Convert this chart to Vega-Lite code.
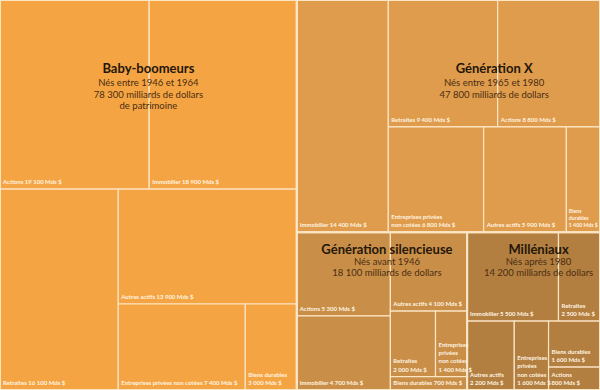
{
  "$schema": "https://vega.github.io/schema/vega-lite/v6.json",
  "width": 600,
  "height": 390,
  "padding": 0,
  "autosize": {"type": "none"},
  "background": "#FBE5C3",
  "config": {"view": {"stroke": null}},
  "datasets": {
    "leaves": [
      {"gen": "Baby-boomeurs", "cat": "Actions", "value": 19100, "label": "Actions 19 100 Mds $", "path": "000", "dirs": "xyxyx"},
      {"gen": "Baby-boomeurs", "cat": "Immobilier", "value": 18900, "label": "Immobilier 18 900 Mds $", "path": "001", "dirs": "xyxyx"},
      {"gen": "Baby-boomeurs", "cat": "Retraites", "value": 16100, "label": "Retraites 16 100 Mds $", "path": "010", "dirs": "xyxyx"},
      {"gen": "Baby-boomeurs", "cat": "Autres actifs", "value": 13900, "label": "Autres actifs 13 900 Mds $", "path": "0110", "dirs": "xyxyx"},
      {"gen": "Baby-boomeurs", "cat": "Entreprises privées non cotées", "value": 7400, "label": "Entreprises privées non cotées 7 400 Mds $", "path": "01110", "dirs": "xyxyx"},
      {"gen": "Baby-boomeurs", "cat": "Biens durables", "value": 3000, "label": "Biens durables\n3 000 Mds $", "path": "01111", "dirs": "xyxyx"},
      {"gen": "Génération X", "cat": "Immobilier", "value": 14400, "label": "Immobilier 14 400 Mds $", "path": "100", "dirs": "xyxyx"},
      {"gen": "Génération X", "cat": "Retraites", "value": 9400, "label": "Retraites 9 400 Mds $", "path": "10100", "dirs": "xyxyx"},
      {"gen": "Génération X", "cat": "Actions", "value": 8800, "label": "Actions 8 800 Mds $", "path": "10101", "dirs": "xyxyx"},
      {"gen": "Génération X", "cat": "Entreprises privées non cotées", "value": 6800, "label": "Entreprises privées\nnon cotées 6 800 Mds $", "path": "10110", "dirs": "xyxyx"},
      {"gen": "Génération X", "cat": "Autres actifs", "value": 5900, "label": "Autres actifs 5 900 Mds $", "path": "10111", "dirs": "xyxyx"},
      {"gen": "Génération X", "cat": "Biens durables", "value": 2400, "label": "Biens\ndurables\n1 400 Mds $", "path": "10112", "dirs": "xyxyx"},
      {"gen": "Génération silencieuse", "cat": "Actions", "value": 5300, "label": "Actions 5 300 Mds $", "path": "11000", "dirs": "xyxxyyx"},
      {"gen": "Génération silencieuse", "cat": "Immobilier", "value": 4700, "label": "Immobilier 4 700 Mds $", "path": "11001", "dirs": "xyxxyyx"},
      {"gen": "Génération silencieuse", "cat": "Autres actifs", "value": 4100, "label": "Autres actifs 4 100 Mds $", "path": "11010", "dirs": "xyxxyyx"},
      {"gen": "Génération silencieuse", "cat": "Retraites", "value": 2000, "label": "Retraites\n2 000 Mds $", "path": "1101100", "dirs": "xyxxyyx"},
      {"gen": "Génération silencieuse", "cat": "Entreprises privées non cotées", "value": 1400, "label": "Entreprises\nprivées\nnon cotées\n1 400 Mds $", "path": "1101101", "dirs": "xyxxyyx"},
      {"gen": "Génération silencieuse", "cat": "Biens durables", "value": 700, "label": "Biens durables 700 Mds $", "path": "110111", "dirs": "xyxxyyx"},
      {"gen": "Milléniaux", "cat": "Immobilier", "value": 5500, "label": "Immobilier 5 500 Mds $", "path": "11100", "dirs": "xyxyxy"},
      {"gen": "Milléniaux", "cat": "Retraites", "value": 2500, "label": "Retraites\n2 500 Mds $", "path": "11101", "dirs": "xyxyxy"},
      {"gen": "Milléniaux", "cat": "Autres actifs", "value": 2200, "label": "Autres actifs\n2 200 Mds $", "path": "11110", "dirs": "xyxyxy"},
      {"gen": "Milléniaux", "cat": "Entreprises privées non cotées", "value": 1600, "label": "Entreprises\nprivées\nnon cotées\n1 600 Mds $", "path": "11111", "dirs": "xyxyxy"},
      {"gen": "Milléniaux", "cat": "Biens durables", "value": 1600, "label": "Biens durables\n1 600 Mds $", "path": "111120", "dirs": "xyxyxy"},
      {"gen": "Milléniaux", "cat": "Actions", "value": 800, "label": "Actions\n800 Mds $", "path": "111121", "dirs": "xyxyxy"}
    ],
    "gens": [
      {"gen": "Baby-boomeurs", "anchor": "0", "sub": "Nés entre 1946 et 1964\n78 300 milliards de dollars\nde patrimoine"},
      {"gen": "Génération X", "anchor": "101", "sub": "Nés entre 1965 et 1980\n47 800 milliards de dollars"},
      {"gen": "Génération silencieuse", "anchor": "110", "sub": "Nés avant 1946\n18 100 milliards de dollars"},
      {"gen": "Milléniaux", "anchor": "111", "sub": "Nés après 1980\n14 200 milliards de dollars"}
    ]
  },
  "data": {"name": "leaves"},
  "transform": [
    {"calculate": "0", "as": "x0"},
    {"calculate": "1", "as": "x1"},
    {"calculate": "0", "as": "y0"},
    {"calculate": "1", "as": "y1"},

    {"calculate": "substring(datum.path,0,0)", "as": "p"},
    {"calculate": "substring(datum.path,0,1)", "as": "k"},
    {"joinaggregate": [{"op": "sum", "field": "value", "as": "tp"}], "groupby": ["p"]},
    {"joinaggregate": [{"op": "sum", "field": "value", "as": "tk"}], "groupby": ["k"]},
    {"window": [{"op": "sum", "field": "value", "as": "ck"}], "groupby": ["p"], "sort": [{"field": "k", "order": "ascending"}], "frame": [null, 0], "ignorePeers": false},
    {"calculate": "substring(datum.dirs,0,1)=='x' ? datum.x0+(datum.x1-datum.x0)*datum.ck/datum.tp : datum.x1", "as": "x1"},
    {"calculate": "substring(datum.dirs,0,1)=='x' ? datum.x1-(datum.x1-datum.x0)*datum.tk/datum.ck : datum.x0", "as": "x0"},
    {"calculate": "substring(datum.dirs,0,1)=='y' ? datum.y0+(datum.y1-datum.y0)*datum.ck/datum.tp : datum.y1", "as": "y1"},
    {"calculate": "substring(datum.dirs,0,1)=='y' ? datum.y1-(datum.y1-datum.y0)*datum.tk/datum.ck : datum.y0", "as": "y0"},

    {"calculate": "substring(datum.path,0,1)", "as": "p"},
    {"calculate": "substring(datum.path,0,2)", "as": "k"},
    {"joinaggregate": [{"op": "sum", "field": "value", "as": "tp"}], "groupby": ["p"]},
    {"joinaggregate": [{"op": "sum", "field": "value", "as": "tk"}], "groupby": ["k"]},
    {"window": [{"op": "sum", "field": "value", "as": "ck"}], "groupby": ["p"], "sort": [{"field": "k", "order": "ascending"}], "frame": [null, 0], "ignorePeers": false},
    {"calculate": "substring(datum.dirs,1,2)=='x' ? datum.x0+(datum.x1-datum.x0)*datum.ck/datum.tp : datum.x1", "as": "x1"},
    {"calculate": "substring(datum.dirs,1,2)=='x' ? datum.x1-(datum.x1-datum.x0)*datum.tk/datum.ck : datum.x0", "as": "x0"},
    {"calculate": "substring(datum.dirs,1,2)=='y' ? datum.y0+(datum.y1-datum.y0)*datum.ck/datum.tp : datum.y1", "as": "y1"},
    {"calculate": "substring(datum.dirs,1,2)=='y' ? datum.y1-(datum.y1-datum.y0)*datum.tk/datum.ck : datum.y0", "as": "y0"},

    {"calculate": "substring(datum.path,0,2)", "as": "p"},
    {"calculate": "substring(datum.path,0,3)", "as": "k"},
    {"joinaggregate": [{"op": "sum", "field": "value", "as": "tp"}], "groupby": ["p"]},
    {"joinaggregate": [{"op": "sum", "field": "value", "as": "tk"}], "groupby": ["k"]},
    {"window": [{"op": "sum", "field": "value", "as": "ck"}], "groupby": ["p"], "sort": [{"field": "k", "order": "ascending"}], "frame": [null, 0], "ignorePeers": false},
    {"calculate": "substring(datum.dirs,2,3)=='x' ? datum.x0+(datum.x1-datum.x0)*datum.ck/datum.tp : datum.x1", "as": "x1"},
    {"calculate": "substring(datum.dirs,2,3)=='x' ? datum.x1-(datum.x1-datum.x0)*datum.tk/datum.ck : datum.x0", "as": "x0"},
    {"calculate": "substring(datum.dirs,2,3)=='y' ? datum.y0+(datum.y1-datum.y0)*datum.ck/datum.tp : datum.y1", "as": "y1"},
    {"calculate": "substring(datum.dirs,2,3)=='y' ? datum.y1-(datum.y1-datum.y0)*datum.tk/datum.ck : datum.y0", "as": "y0"},

    {"calculate": "substring(datum.path,0,3)", "as": "p"},
    {"calculate": "substring(datum.path,0,4)", "as": "k"},
    {"joinaggregate": [{"op": "sum", "field": "value", "as": "tp"}], "groupby": ["p"]},
    {"joinaggregate": [{"op": "sum", "field": "value", "as": "tk"}], "groupby": ["k"]},
    {"window": [{"op": "sum", "field": "value", "as": "ck"}], "groupby": ["p"], "sort": [{"field": "k", "order": "ascending"}], "frame": [null, 0], "ignorePeers": false},
    {"calculate": "substring(datum.dirs,3,4)=='x' ? datum.x0+(datum.x1-datum.x0)*datum.ck/datum.tp : datum.x1", "as": "x1"},
    {"calculate": "substring(datum.dirs,3,4)=='x' ? datum.x1-(datum.x1-datum.x0)*datum.tk/datum.ck : datum.x0", "as": "x0"},
    {"calculate": "substring(datum.dirs,3,4)=='y' ? datum.y0+(datum.y1-datum.y0)*datum.ck/datum.tp : datum.y1", "as": "y1"},
    {"calculate": "substring(datum.dirs,3,4)=='y' ? datum.y1-(datum.y1-datum.y0)*datum.tk/datum.ck : datum.y0", "as": "y0"},

    {"calculate": "substring(datum.path,0,4)", "as": "p"},
    {"calculate": "substring(datum.path,0,5)", "as": "k"},
    {"joinaggregate": [{"op": "sum", "field": "value", "as": "tp"}], "groupby": ["p"]},
    {"joinaggregate": [{"op": "sum", "field": "value", "as": "tk"}], "groupby": ["k"]},
    {"window": [{"op": "sum", "field": "value", "as": "ck"}], "groupby": ["p"], "sort": [{"field": "k", "order": "ascending"}], "frame": [null, 0], "ignorePeers": false},
    {"calculate": "substring(datum.dirs,4,5)=='x' ? datum.x0+(datum.x1-datum.x0)*datum.ck/datum.tp : datum.x1", "as": "x1"},
    {"calculate": "substring(datum.dirs,4,5)=='x' ? datum.x1-(datum.x1-datum.x0)*datum.tk/datum.ck : datum.x0", "as": "x0"},
    {"calculate": "substring(datum.dirs,4,5)=='y' ? datum.y0+(datum.y1-datum.y0)*datum.ck/datum.tp : datum.y1", "as": "y1"},
    {"calculate": "substring(datum.dirs,4,5)=='y' ? datum.y1-(datum.y1-datum.y0)*datum.tk/datum.ck : datum.y0", "as": "y0"},

    {"calculate": "substring(datum.path,0,5)", "as": "p"},
    {"calculate": "substring(datum.path,0,6)", "as": "k"},
    {"joinaggregate": [{"op": "sum", "field": "value", "as": "tp"}], "groupby": ["p"]},
    {"joinaggregate": [{"op": "sum", "field": "value", "as": "tk"}], "groupby": ["k"]},
    {"window": [{"op": "sum", "field": "value", "as": "ck"}], "groupby": ["p"], "sort": [{"field": "k", "order": "ascending"}], "frame": [null, 0], "ignorePeers": false},
    {"calculate": "substring(datum.dirs,5,6)=='x' ? datum.x0+(datum.x1-datum.x0)*datum.ck/datum.tp : datum.x1", "as": "x1"},
    {"calculate": "substring(datum.dirs,5,6)=='x' ? datum.x1-(datum.x1-datum.x0)*datum.tk/datum.ck : datum.x0", "as": "x0"},
    {"calculate": "substring(datum.dirs,5,6)=='y' ? datum.y0+(datum.y1-datum.y0)*datum.ck/datum.tp : datum.y1", "as": "y1"},
    {"calculate": "substring(datum.dirs,5,6)=='y' ? datum.y1-(datum.y1-datum.y0)*datum.tk/datum.ck : datum.y0", "as": "y0"},

    {"calculate": "substring(datum.path,0,6)", "as": "p"},
    {"calculate": "substring(datum.path,0,7)", "as": "k"},
    {"joinaggregate": [{"op": "sum", "field": "value", "as": "tp"}], "groupby": ["p"]},
    {"joinaggregate": [{"op": "sum", "field": "value", "as": "tk"}], "groupby": ["k"]},
    {"window": [{"op": "sum", "field": "value", "as": "ck"}], "groupby": ["p"], "sort": [{"field": "k", "order": "ascending"}], "frame": [null, 0], "ignorePeers": false},
    {"calculate": "substring(datum.dirs,6,7)=='x' ? datum.x0+(datum.x1-datum.x0)*datum.ck/datum.tp : datum.x1", "as": "x1"},
    {"calculate": "substring(datum.dirs,6,7)=='x' ? datum.x1-(datum.x1-datum.x0)*datum.tk/datum.ck : datum.x0", "as": "x0"},
    {"calculate": "substring(datum.dirs,6,7)=='y' ? datum.y0+(datum.y1-datum.y0)*datum.ck/datum.tp : datum.y1", "as": "y1"},
    {"calculate": "substring(datum.dirs,6,7)=='y' ? datum.y1-(datum.y1-datum.y0)*datum.tk/datum.ck : datum.y0", "as": "y0"}
  ],
  "layer": [
    {
      "mark": {"type": "rect", "stroke": "#FBE5C3", "strokeWidth": 1.2},
      "encoding": {
        "x": {"field": "x0", "type": "quantitative", "scale": {"domain": [0, 1], "nice": false, "zero": false}, "axis": null},
        "x2": {"field": "x1"},
        "y": {"field": "y0", "type": "quantitative", "scale": {"domain": [0, 1], "nice": false, "zero": false, "reverse": true}, "axis": null},
        "y2": {"field": "y1"},
        "color": {
          "field": "gen", "type": "nominal", "legend": null,
          "scale": {"domain": ["Baby-boomeurs", "Génération X", "Génération silencieuse", "Milléniaux"], "range": ["#F5A443", "#DF9C4C", "#C98F48", "#B37F40"]}
        }
      }
    },
    {
      "transform": [
        {"aggregate": [
          {"op": "min", "field": "x0", "as": "gx0"},
          {"op": "max", "field": "x1", "as": "gx1"},
          {"op": "min", "field": "y0", "as": "gy0"},
          {"op": "max", "field": "y1", "as": "gy1"}
        ], "groupby": ["gen"]}
      ],
      "mark": {"type": "rect", "filled": false, "stroke": "#FBE5C3", "strokeWidth": 2},
      "encoding": {
        "x": {"field": "gx0", "type": "quantitative"},
        "x2": {"field": "gx1"},
        "y": {"field": "gy0", "type": "quantitative"},
        "y2": {"field": "gy1"}
      }
    },
    {
      "encoding": {
        "x": {"field": "x0", "type": "quantitative"},
        "y": {"field": "y1", "type": "quantitative"},
        "text": {"field": "label", "type": "nominal"}
      },
      "layer": [
        {
          "transform": [{"filter": "length(split(datum.label, '\\n')) == 1"}],
          "mark": {"type": "text", "align": "left", "baseline": "alphabetic", "dx": 3, "dy": -5, "font": "Lato", "fontWeight": "bold", "fontSize": 6, "lineHeight": 8.3, "lineBreak": "\n", "fill": "#FFF4E2"}
        },
        {
          "transform": [{"filter": "length(split(datum.label, '\\n')) == 2"}],
          "mark": {"type": "text", "align": "left", "baseline": "alphabetic", "dx": 3, "dy": -13.3, "font": "Lato", "fontWeight": "bold", "fontSize": 6, "lineHeight": 8.3, "lineBreak": "\n", "fill": "#FFF4E2"}
        },
        {
          "transform": [{"filter": "length(split(datum.label, '\\n')) == 3"}],
          "mark": {"type": "text", "align": "left", "baseline": "alphabetic", "dx": 2.5, "dy": -19.6, "font": "Lato", "fontWeight": "bold", "fontSize": 5.2, "lineHeight": 7.3, "lineBreak": "\n", "fill": "#FFF4E2"}
        },
        {
          "transform": [{"filter": "length(split(datum.label, '\\n')) == 4"}],
          "mark": {"type": "text", "align": "left", "baseline": "alphabetic", "dx": 3, "dy": -29.9, "font": "Lato", "fontWeight": "bold", "fontSize": 6, "lineHeight": 8.3, "lineBreak": "\n", "fill": "#FFF4E2"}
        }
      ]
    },
    {
      "transform": [
        {"lookup": "gen", "from": {"data": {"name": "gens"}, "key": "gen", "fields": ["anchor"]}},
        {"filter": "indexof(datum.path, datum.anchor) === 0"},
        {"aggregate": [
          {"op": "min", "field": "x0", "as": "ax0"},
          {"op": "max", "field": "x1", "as": "ax1"},
          {"op": "min", "field": "y0", "as": "ay0"}
        ], "groupby": ["gen"]},
        {"calculate": "(datum.ax0 + datum.ax1) / 2", "as": "cx"},
        {"lookup": "gen", "from": {"data": {"name": "gens"}, "key": "gen", "fields": ["sub"]}}
      ],
      "layer": [
        {
          "transform": [{"filter": "datum.gen === 'Baby-boomeurs' || datum.gen === 'Génération X'"}],
          "mark": {"type": "text", "align": "center", "baseline": "alphabetic", "dy": 73, "font": "Lato", "fontWeight": "bold", "fontSize": 13, "fill": "#24160A"},
          "encoding": {"x": {"field": "cx", "type": "quantitative"}, "y": {"field": "ay0", "type": "quantitative"}, "text": {"field": "gen", "type": "nominal"}}
        },
        {
          "transform": [{"filter": "datum.gen === 'Baby-boomeurs' || datum.gen === 'Génération X'"}],
          "mark": {"type": "text", "align": "center", "baseline": "alphabetic", "dy": 86, "font": "Lato", "fontSize": 9.5, "lineHeight": 11.5, "lineBreak": "\n", "fill": "#4A2D12"},
          "encoding": {"x": {"field": "cx", "type": "quantitative"}, "y": {"field": "ay0", "type": "quantitative"}, "text": {"field": "sub", "type": "nominal"}}
        },
        {
          "transform": [{"filter": "datum.gen === 'Génération silencieuse' || datum.gen === 'Milléniaux'"}],
          "mark": {"type": "text", "align": "center", "baseline": "alphabetic", "dx": 5, "dy": 22, "font": "Lato", "fontWeight": "bold", "fontSize": 13, "fill": "#24160A"},
          "encoding": {"x": {"field": "cx", "type": "quantitative"}, "y": {"field": "ay0", "type": "quantitative"}, "text": {"field": "gen", "type": "nominal"}}
        },
        {
          "transform": [{"filter": "datum.gen === 'Génération silencieuse' || datum.gen === 'Milléniaux'"}],
          "mark": {"type": "text", "align": "center", "baseline": "alphabetic", "dx": 5, "dy": 33, "font": "Lato", "fontSize": 9.5, "lineHeight": 11, "lineBreak": "\n", "fill": "#4A2D12"},
          "encoding": {"x": {"field": "cx", "type": "quantitative"}, "y": {"field": "ay0", "type": "quantitative"}, "text": {"field": "sub", "type": "nominal"}}
        }
      ]
    }
  ]
}
